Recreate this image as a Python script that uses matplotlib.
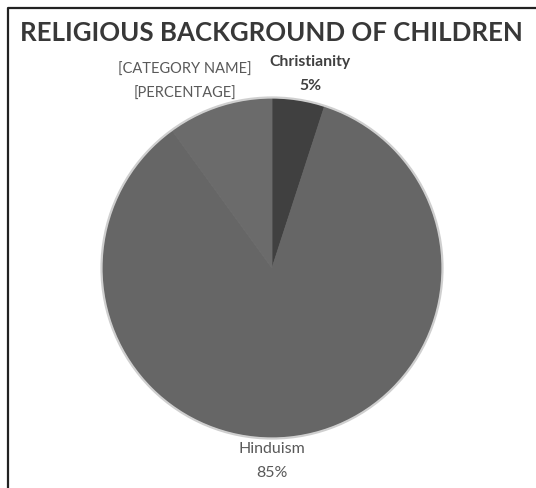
import matplotlib.pyplot as plt
from matplotlib.patches import Circle

labels = ["Christianity", "Hinduism", "[CATEGORY NAME]"]
values = [5, 85, 10]
colors = ["#404040", "#666666", "#6b6b6b"]

W, H = 536, 488
fig = plt.figure(figsize=(W / 100, H / 100), dpi=100)
ax = fig.add_axes([0, 0, 1, 1])

cx, cy, r = 272, H - 268, 170
wedges, _ = ax.pie(values, colors=colors, startangle=90, counterclock=False,
                   center=(cx, cy), radius=r)
for w, c in zip(wedges, colors):
    w.set_edgecolor(c)
    w.set_linewidth(0.6)
ax.add_patch(Circle((cx, cy), r + 0.5, fill=False, edgecolor="#cfcfcf", lw=1.6))
ax.set_xlim(0, W)
ax.set_ylim(0, H)
ax.set_aspect("equal")
ax.axis("off")

# frame (only top and left are visible in the original)
ax.plot([7.5, 7.5, W], [0, H - 7.5, H - 7.5], color="#222222", lw=1.6)

font = "Lato"
ax.text(271, H - 33, "RELIGIOUS BACKGROUND OF CHILDREN", ha="center", va="center",
        fontsize=18.6, fontweight="bold", color="#383838", family=font)

pct = [f"{v}%" for v in values]
ax.text(310, H - 62, labels[0], ha="center", va="center", fontsize=11.3,
        fontweight="bold", color="#404040", family=font)
ax.text(310, H - 86, pct[0], ha="center", va="center", fontsize=11.3,
        fontweight="bold", color="#404040", family=font)
ax.text(272, H - 449, labels[1], ha="center", va="center", fontsize=11.5,
        color="#595959", family=font)
ax.text(272, H - 473, pct[1], ha="center", va="center", fontsize=11.5,
        color="#595959", family=font)
ax.text(185, H - 70, labels[2], ha="center", va="center", fontsize=10.5,
        color="#595959", family=font)
ax.text(185, H - 94, "[PERCENTAGE]", ha="center", va="center", fontsize=10.5,
        color="#595959", family=font)

fig.savefig("out.png", dpi=100)
